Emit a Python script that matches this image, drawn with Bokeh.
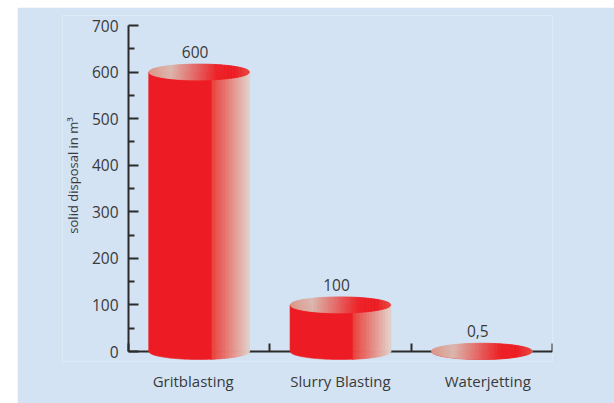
import numpy as np
from bokeh.plotting import figure
from bokeh.models import Range1d, LinearAxis, FixedTicker, Spacer
from bokeh.layouts import row, column
from bokeh.core.properties import value
from bokeh.embed import file_html
from bokeh.resources import INLINE

# ---------------- data ----------------
categories = ["Gritblasting", "Slurry Blasting", "Waterjetting"]
values = [600, 100, 0.5]
value_labels = ["600", "100", "0,5"]
y_ticks = [0, 100, 200, 300, 400, 500, 600, 700]
y_minor_ticks = [50, 150, 250, 350, 450, 550, 650]
y_title = "solid disposal in m\u00b3"

# ---------------- style ----------------
BG = "#d3e3f3"
AX = "#2a2a2a"
TXT = "#3a3a3a"
FONT = "Open Sans"
KY = 326 / 700                 # px per y unit
Y_MIN, Y_MAX = -10 / KY, 700 + 10 / KY
X_MIN, X_MAX = -0.467, 3
RY = 8 / KY                    # half height of the ellipses (8 px)
HALF_W = 0.357                 # half width of cylinders (x units)
LABEL_SPREAD = 0.042           # category labels sit slightly wider apart than the bars
N = 70
SOLID = 0.62

RED = (237, 28, 36)


def to_hex(c):
    return "#%02x%02x%02x" % tuple(int(round(v)) for v in c)


def interp_color(t, stops):
    ts = [s[0] for s in stops]
    return to_hex([np.interp(t, ts, [s[1][k] for s in stops]) for k in range(3)])


BODY_STOPS = [(0.0, RED), (SOLID, RED), (SOLID + 0.005, (234, 62, 56)), (1.0, (226, 210, 202))]
TOP_STOPS = [(0.0, (221, 150, 136)), (0.22, (219, 184, 174)), (0.68, (237, 35, 40)),
             (0.85, RED), (1.0, (231, 72, 64))]

p = figure(width=597, height=396, output_backend="svg", toolbar_location=None,
           x_range=Range1d(X_MIN, X_MAX), y_range=Range1d(Y_MIN, Y_MAX),
           x_axis_location=None, y_axis_location=None,
           min_border_left=45, min_border_right=62, min_border_top=8, min_border_bottom=42,
           background_fill_color=BG, border_fill_color=BG, outline_line_color=None)
p.grid.visible = False

# y axis: ticks and labels at x = 0
yaxis = LinearAxis(ticker=FixedTicker(ticks=y_ticks, minor_ticks=y_minor_ticks),
                   fixed_location=0, axis_line_color=None,
                   major_tick_in=10, major_tick_out=0, major_tick_line_width=2,
                   major_tick_line_color=AX,
                   minor_tick_in=6, minor_tick_out=0, minor_tick_line_width=2,
                   minor_tick_line_color=AX,
                   major_label_standoff=10,
                   major_label_text_font=FONT, major_label_text_font_size="15.5px",
                   major_label_text_color=TXT)
p.add_layout(yaxis, "left")

# category labels under the frame
centers = [i + 0.5 for i in range(len(categories))]
mid = (len(categories) - 1) / 2
label_pos = [c + (i - mid) * LABEL_SPREAD for i, c in enumerate(centers)]
cat_axis = LinearAxis(ticker=FixedTicker(ticks=label_pos, minor_ticks=[]),
                      major_label_overrides={c: n for c, n in zip(label_pos, categories)},
                      axis_line_color=None, major_tick_line_color=None,
                      minor_tick_line_color=None,
                      major_label_standoff=3,
                      major_label_text_font=FONT, major_label_text_font_size="15px",
                      major_label_text_color=TXT)
p.add_layout(cat_axis, "below")

# boundary ticks on the x axis at y = 0 (pointing up)
xticks_axis = LinearAxis(ticker=FixedTicker(ticks=[0, 1, 2, 3], minor_ticks=[]),
                         fixed_location=0, axis_line_color=None,
                         major_tick_in=8, major_tick_out=0, major_tick_line_width=2,
                         major_tick_line_color=AX, minor_tick_line_color=None,
                         major_label_text_color=None, major_label_text_font_size="1px",
                         major_label_standoff=0)
p.add_layout(xticks_axis, "below")

# axis lines
p.segment(x0=[0, 0], y0=[0, 0], x1=[0, 3], y1=[700, 0], line_color=AX, line_width=2)

# cylinders
for c, v in zip(centers, values):
    x_left = c - HALF_W
    edges = np.linspace(x_left, c + HALF_W, N + 1)
    u = (edges - c) / HALF_W
    s = np.sqrt(np.clip(1 - u ** 2, 0, 1)) * RY
    # solid red part of the body
    x_sol = x_left + SOLID * 2 * HALF_W
    xs_sol = np.linspace(x_left, x_sol, 40)
    s_sol = np.sqrt(np.clip(1 - ((xs_sol - c) / HALF_W) ** 2, 0, 1)) * RY
    p.patch(list(xs_sol) + [x_sol, x_left], list(-s_sol) + [v, v],
            fill_color=to_hex(RED), line_color=to_hex(RED), line_width=0.6, level="overlay")
    bxs, bys, bcol, txs, tys, tcol = [], [], [], [], [], []
    for j in range(N):
        t = (j + 0.5) / N
        xa, xb = edges[j], edges[j + 1]
        if xb > x_sol:
            xa2 = max(xa, x_sol - 0.002)
            sa = np.sqrt(max(0.0, 1 - ((xa2 - c) / HALF_W) ** 2)) * RY
            bxs.append([xa2, xb, xb, xa2])
            bys.append([v, v, -s[j + 1], -sa])
            bcol.append(interp_color(t, BODY_STOPS))
        txs.append([xa, xb, xb, xa])
        tys.append([v + s[j], v + s[j + 1], v - s[j + 1], v - s[j]])
        tcol.append(interp_color(t, TOP_STOPS))
    p.patches(bxs, bys, fill_color=bcol, line_color=bcol, line_width=0.8, level="overlay")
    p.patches(txs, tys, fill_color=tcol, line_color=tcol, line_width=0.8, level="overlay")

# value labels
p.text(x=centers, y=values, text=value_labels, x_offset=-4, y_offset=-20,
       text_align="center", text_baseline="middle",
       text_font=value(FONT), text_font_size="15.5px", text_color=TXT, level="overlay")

# y axis title
p.text(x=[-0.396], y=[378], text=[y_title], angle=np.pi / 2,
       text_align="center", text_baseline="middle",
       text_font=value(FONT), text_font_size="13px", text_color=TXT)

layout = column(Spacer(width=614, height=7), row(Spacer(width=17, height=396), p))
open("out.html", "w").write(file_html(layout, INLINE))
